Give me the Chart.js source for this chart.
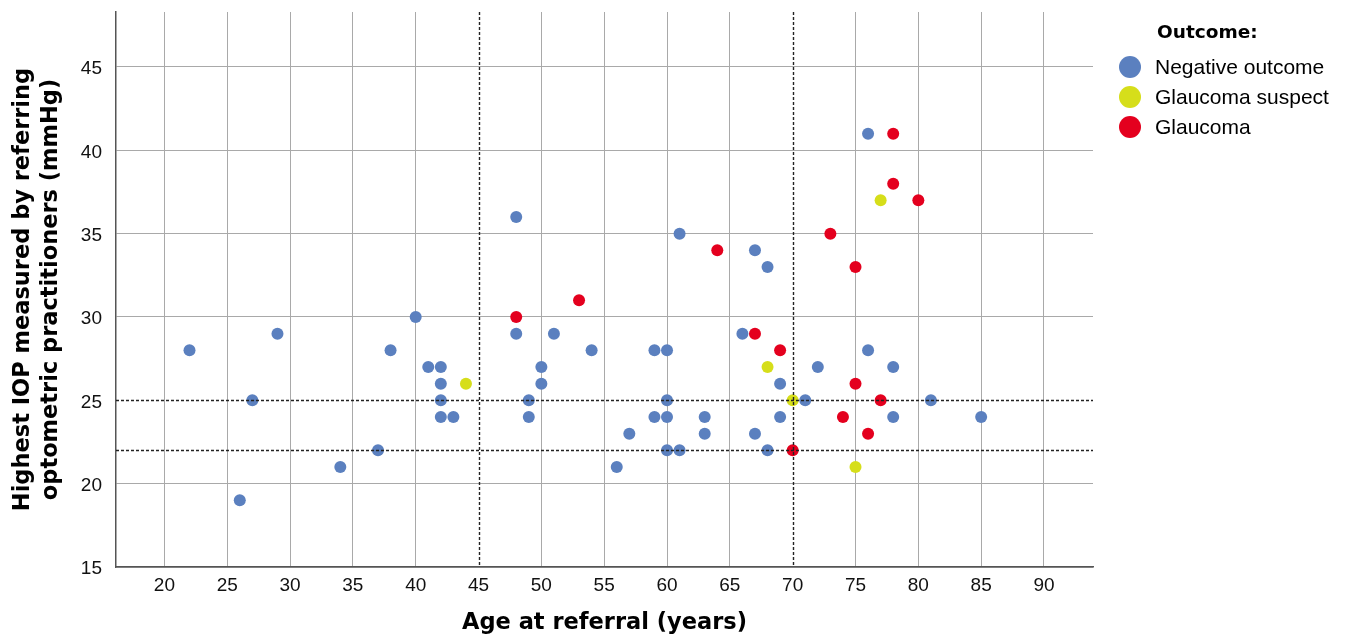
<!DOCTYPE html>
<html>
<head>
<meta charset="utf-8">
<title>IOP vs age at referral</title>
<script src="https://cdn.jsdelivr.net/npm/chart.js@4/dist/chart.umd.min.js"></script>
<style>
    html, body { margin: 0; padding: 0; background: #ffffff; }
    #wrap { width: 1346px; height: 637px; }
</style>
</head>
<body>
<div id="wrap"><canvas id="iopChart"></canvas></div>
<script>
// 資料 - 年齡 (x) 與最高眼壓 (y)
const negativeAge = [22, 26, 27, 29, 34, 37, 38, 40, 41, 42, 42, 42, 42, 43, 48, 48, 49, 49, 50, 50, 51, 54, 56, 57, 59, 59, 60, 60, 60, 60, 61, 61, 63, 63, 66, 67, 67, 68, 68, 69, 69, 71, 72, 76, 76, 78, 78, 81, 85];
const negativeIop = [28, 19, 25, 29, 21, 22, 28, 30, 27, 27, 26, 25, 24, 24, 36, 29, 25, 24, 27, 26, 29, 28, 21, 23, 28, 24, 28, 25, 24, 22, 22, 35, 24, 23, 29, 34, 23, 33, 22, 26, 24, 25, 27, 41, 28, 27, 24, 25, 24];

const suspectAge = [44, 68, 70, 75, 77];
const suspectIop = [26, 27, 25, 21, 37];

const glaucomaAge = [48, 53, 64, 67, 69, 70, 73, 74, 75, 75, 76, 77, 78, 78, 80];
const glaucomaIop = [30, 31, 34, 29, 28, 22, 35, 24, 33, 26, 23, 25, 41, 38, 37];

// 參考線 (虛線)
const refAges = [45, 70];
const refIops = [22, 25];

// 刻度
const ageTicks = [20, 25, 30, 35, 40, 45, 50, 55, 60, 65, 70, 75, 80, 85, 90];
const iopTicks = [15, 20, 25, 30, 35, 40, 45];

const seriesLabels = ['Negative outcome', 'Glaucoma suspect', 'Glaucoma'];
const seriesColors = ['#5b80bf', '#d6de1a', '#e4001e'];
const legendTitle = 'Outcome:';

const toPoints = (xs, ys) => xs.map((x, i) => ({ x: x, y: ys[i] }));

const tickFont = { family: '"Liberation Sans", Arial, sans-serif', size: 19 };
const titleFont = { family: '"DejaVu Sans", sans-serif', size: 22.5, weight: 'bold', lineHeight: 1.25 };
const gridGrey = '#a9a9a9';

// 參考虛線畫在點之上
const refLines = {
    id: 'refLines',
    afterDatasetsDraw(chart) {
        const { ctx, chartArea, scales } = chart;
        ctx.save();
        ctx.strokeStyle = '#222222';
        ctx.lineWidth = 1.4;
        ctx.setLineDash([3, 2]);
        refAges.forEach(a => {
            const px = Math.round(scales.x.getPixelForValue(a)) + 0.5;
            ctx.beginPath();
            ctx.moveTo(px, chartArea.top);
            ctx.lineTo(px, chartArea.bottom);
            ctx.stroke();
        });
        refIops.forEach(v => {
            const py = Math.round(scales.y.getPixelForValue(v)) + 0.5;
            ctx.beginPath();
            ctx.moveTo(chartArea.left, py);
            ctx.lineTo(chartArea.right, py);
            ctx.stroke();
        });
        ctx.restore();
    }
};

// 右側圖例
const outcomeLegend = {
    id: 'outcomeLegend',
    afterDraw(chart) {
        const ctx = chart.ctx;
        const left = chart.chartArea.right + 37;
        ctx.save();
        ctx.textBaseline = 'middle';
        ctx.fillStyle = '#000000';
        ctx.font = 'bold 18.5px "DejaVu Sans", sans-serif';
        ctx.fillText(legendTitle, left + 27, 33);
        ctx.font = '21px "Liberation Sans", Arial, sans-serif';
        chart.data.datasets.forEach((ds, i) => {
            const y = 67 + i * 30;
            ctx.beginPath();
            ctx.arc(left, y, 11, 0, Math.PI * 2);
            ctx.fillStyle = ds.backgroundColor;
            ctx.fill();
            ctx.fillStyle = '#000000';
            ctx.fillText(ds.label, left + 25, y + 1);
        });
        ctx.restore();
    }
};

const makeDataset = (i, xs, ys) => ({
    label: seriesLabels[i],
    data: toPoints(xs, ys),
    backgroundColor: seriesColors[i],
    borderWidth: 0,
    pointRadius: 6,
    pointHoverRadius: 6
});

new Chart(document.getElementById('iopChart'), {
    type: 'scatter',
    data: {
        datasets: [
            makeDataset(0, negativeAge, negativeIop),
            makeDataset(1, suspectAge, suspectIop),
            makeDataset(2, glaucomaAge, glaucomaIop)
        ]
    },
    options: {
        responsive: true,
        maintainAspectRatio: false,
        animation: false,
        layout: {
            padding: { left: 0, top: 12, right: 253, bottom: 0 }
        },
        plugins: {
            legend: { display: false },
            tooltip: { enabled: false }
        },
        scales: {
            x: {
                type: 'linear',
                min: 16.15,
                max: 93.9,
                afterFit(scale) {
                    scale.height = 70;
                    scale.paddingLeft = 0;
                    scale.paddingRight = 0;
                },
                afterBuildTicks(scale) { scale.ticks = ageTicks.map(v => ({ value: v })); },
                ticks: {
                    color: '#111111',
                    font: tickFont,
                    padding: 7
                },
                grid: {
                    drawTicks: false,
                    lineWidth: 1,
                    color: ctx => refAges.includes(ctx.tick && ctx.tick.value) ? 'rgba(0,0,0,0)' : gridGrey
                },
                border: { display: true, color: '#555555', width: 1.5 },
                title: {
                    display: true,
                    text: 'Age at referral (years)',
                    color: '#000000',
                    font: titleFont,
                    padding: { top: 0, bottom: 0 }
                }
            },
            y: {
                type: 'linear',
                min: 15,
                max: 48.3,
                afterFit(scale) {
                    scale.width = 116;
                    scale.paddingTop = 0;
                    scale.paddingBottom = 0;
                },
                afterBuildTicks(scale) { scale.ticks = iopTicks.map(v => ({ value: v })); },
                ticks: {
                    color: '#111111',
                    font: tickFont,
                    padding: 14,
                    labelOffset: 2
                },
                grid: {
                    drawTicks: false,
                    lineWidth: 1,
                    color: ctx => refIops.includes(ctx.tick && ctx.tick.value) ? 'rgba(0,0,0,0)' : gridGrey
                },
                border: { display: true, color: '#555555', width: 1.5 },
                title: {
                    display: true,
                    text: ['Highest IOP measured by referring', 'optometric practitioners (mmHg)'],
                    color: '#000000',
                    font: titleFont,
                    padding: { top: 9, bottom: 0 }
                }
            }
        }
    },
    plugins: [refLines, outcomeLegend]
});
</script>
</body>
</html>
